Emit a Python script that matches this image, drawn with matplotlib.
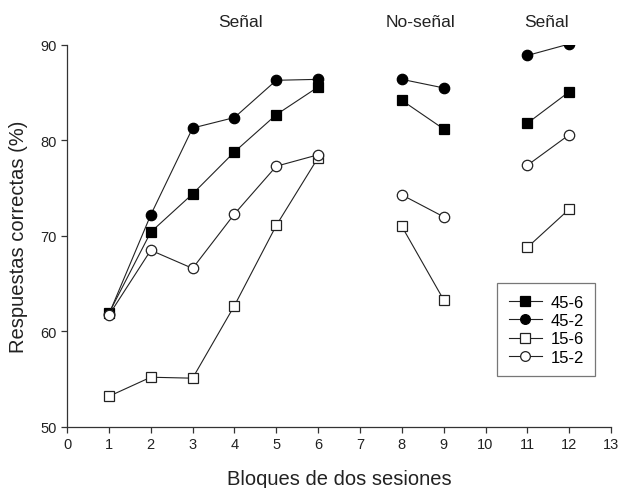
import matplotlib
matplotlib.use("Agg")
import matplotlib.pyplot as plt
from matplotlib.transforms import blended_transform_factory

plt.rcParams['font.family'] = ['Liberation Sans', 'DejaVu Sans']

segments = [[1, 2, 3, 4, 5, 6], [8, 9], [11, 12]]

s45_6 = [[61.9, 70.4, 74.4, 78.8, 82.7, 85.6], [84.2, 81.2], [81.8, 85.1]]
s45_2 = [[61.8, 72.2, 81.3, 82.4, 86.3, 86.4], [86.4, 85.5], [88.9, 90.1]]
s15_6 = [[53.2, 55.2, 55.1, 62.7, 71.1, 78.2], [71.0, 63.3], [68.8, 72.8]]
s15_2 = [[61.7, 68.5, 66.6, 72.3, 77.3, 78.5], [74.3, 72.0], [77.4, 80.6]]

series_names = ["45-6", "45-2", "15-6", "15-2"]
phase_labels = ["Señal", "No-señal", "Señal"]
phase_x = [4.15, 8.45, 11.45]

xticks = list(range(0, 14))
yticks = [50, 60, 70, 80, 90]

fig = plt.figure(figsize=(6.21, 4.89), dpi=100)
ax = fig.add_axes([0.108, 0.125, 0.876, 0.781])

styles = [
    dict(marker='s', mfc='black', mec='black'),
    dict(marker='o', mfc='black', mec='black'),
    dict(marker='s', mfc='white', mec='#222222'),
    dict(marker='o', mfc='white', mec='#222222'),
]
data = [s45_6, s45_2, s15_6, s15_2]
handles = []
for name, st, ser in zip(series_names, styles, data):
    for i, (xs, ys) in enumerate(zip(segments, ser)):
        ln, = ax.plot(xs, ys, color='#222222', lw=0.8, ms=7.5, mew=0.9,
                      label=name if i == 0 else None, **st)
        if i == 0:
            handles.append(ln)

ax.set_xlim(0, 13)
ax.set_ylim(50, 90)
ax.set_xticks(xticks)
ax.set_yticks(yticks)
for s in ['top', 'right']:
    ax.spines[s].set_visible(False)
for s in ['left', 'bottom']:
    ax.spines[s].set_linewidth(0.9)
    ax.spines[s].set_color('#333333')
ax.tick_params(direction='out', length=4, width=0.9, colors='#333333',
               labelsize=10.5, labelcolor='#222222')
ax.set_xlabel("Bloques de dos sesiones", fontsize=14.5, color='#222222', labelpad=13)
ax.set_ylabel("Respuestas correctas (%)", fontsize=14.5, color='#222222', labelpad=9)

tr = blended_transform_factory(ax.transData, fig.transFigure)
for lab, xp in zip(phase_labels, phase_x):
    ax.text(xp, 0.953, lab, transform=tr, ha='center', va='center',
            fontsize=12.5, color='#222222')

leg = fig.legend(handles=handles, loc='upper left',
                 bbox_to_anchor=(497 / 621, 1 - 284 / 489),
                 frameon=True, fancybox=False, edgecolor='#555555',
                 fontsize=12, handlelength=2.0, borderpad=0.7,
                 labelspacing=0.2, handletextpad=0.5, borderaxespad=0)
leg.get_frame().set_linewidth(0.9)
for h in leg.legend_handles:
    h.set_markersize(7)

fig.savefig("out.png", dpi=100)
